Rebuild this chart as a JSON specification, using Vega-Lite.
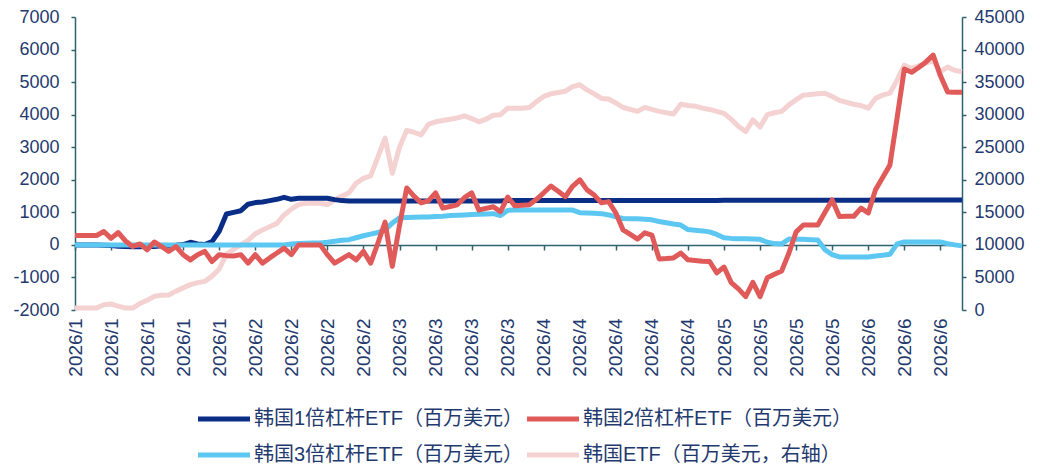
{
  "$schema": "https://vega.github.io/schema/vega-lite/v6.json",
  "width": 887,
  "height": 293,
  "autosize": {"type": "none"},
  "padding": {"left": 75, "top": 17, "right": 84, "bottom": 164},
  "background": "white",
  "config": {
    "view": {"stroke": null},
    "axis": {"grid": false, "labelFont": "Liberation Sans", "labelFontSize": 18, "labelColor": "#1F3A6E", "domainColor": "#2F6170", "tickColor": "#2F6170", "domainWidth": 1.5, "tickWidth": 1.5}
  },
  "data": {
    "values": [
      {"d": "2026-01-01", "b1": 0, "b2": 290, "b3": 0, "etf": 300},
      {"d": "2026-01-02", "b1": 0, "b2": 290, "b3": 0, "etf": 300},
      {"d": "2026-01-05", "b1": 0, "b2": 290, "b3": 0, "etf": 300},
      {"d": "2026-01-06", "b1": 0, "b2": 290, "b3": 0, "etf": 300},
      {"d": "2026-01-07", "b1": -10, "b2": 410, "b3": 0, "etf": 800},
      {"d": "2026-01-08", "b1": -20, "b2": 200, "b3": 0, "etf": 920},
      {"d": "2026-01-09", "b1": -40, "b2": 380, "b3": 0, "etf": 600},
      {"d": "2026-01-12", "b1": -50, "b2": 120, "b3": 0, "etf": 300},
      {"d": "2026-01-13", "b1": -60, "b2": -50, "b3": 0, "etf": 300},
      {"d": "2026-01-14", "b1": -60, "b2": 30, "b3": 0, "etf": 1000},
      {"d": "2026-01-15", "b1": -40, "b2": -150, "b3": 0, "etf": 1500},
      {"d": "2026-01-16", "b1": -50, "b2": 90, "b3": 0, "etf": 2100},
      {"d": "2026-01-19", "b1": -30, "b2": -50, "b3": 0, "etf": 2250},
      {"d": "2026-01-20", "b1": -20, "b2": -200, "b3": 0, "etf": 2300},
      {"d": "2026-01-21", "b1": -10, "b2": -50, "b3": 0, "etf": 2900},
      {"d": "2026-01-22", "b1": 10, "b2": -300, "b3": 0, "etf": 3400},
      {"d": "2026-01-23", "b1": 80, "b2": -460, "b3": 0, "etf": 3900},
      {"d": "2026-01-26", "b1": 30, "b2": -300, "b3": 0, "etf": 4200},
      {"d": "2026-01-27", "b1": 10, "b2": -200, "b3": 0, "etf": 4400},
      {"d": "2026-01-28", "b1": 100, "b2": -510, "b3": 0, "etf": 5200},
      {"d": "2026-01-29", "b1": 420, "b2": -300, "b3": 0, "etf": 6300},
      {"d": "2026-01-30", "b1": 950, "b2": -330, "b3": 0, "etf": 8600},
      {"d": "2026-02-02", "b1": 1000, "b2": -340, "b3": 0, "etf": 9300},
      {"d": "2026-02-03", "b1": 1050, "b2": -300, "b3": 0, "etf": 10000},
      {"d": "2026-02-04", "b1": 1250, "b2": -560, "b3": 0, "etf": 10700},
      {"d": "2026-02-05", "b1": 1300, "b2": -300, "b3": 0, "etf": 11700},
      {"d": "2026-02-06", "b1": 1320, "b2": -560, "b3": 0, "etf": 12300},
      {"d": "2026-02-09", "b1": 1360, "b2": -400, "b3": 0, "etf": 12800},
      {"d": "2026-02-10", "b1": 1400, "b2": -250, "b3": 0, "etf": 13300},
      {"d": "2026-02-11", "b1": 1460, "b2": -100, "b3": 0, "etf": 14600},
      {"d": "2026-02-12", "b1": 1400, "b2": -300, "b3": 30, "etf": 15500},
      {"d": "2026-02-13", "b1": 1430, "b2": 0, "b3": 40, "etf": 16200},
      {"d": "2026-02-16", "b1": 1430, "b2": 0, "b3": 50, "etf": 16400},
      {"d": "2026-02-17", "b1": 1430, "b2": 0, "b3": 60, "etf": 16400},
      {"d": "2026-02-18", "b1": 1430, "b2": 0, "b3": 60, "etf": 16400},
      {"d": "2026-02-19", "b1": 1430, "b2": -300, "b3": 80, "etf": 16200},
      {"d": "2026-02-20", "b1": 1390, "b2": -560, "b3": 110, "etf": 16900},
      {"d": "2026-02-23", "b1": 1360, "b2": -430, "b3": 140, "etf": 17500},
      {"d": "2026-02-24", "b1": 1350, "b2": -300, "b3": 160, "etf": 18000},
      {"d": "2026-02-25", "b1": 1350, "b2": -460, "b3": 220, "etf": 19500},
      {"d": "2026-02-26", "b1": 1350, "b2": -200, "b3": 280, "etf": 20200},
      {"d": "2026-02-27", "b1": 1350, "b2": -560, "b3": 330, "etf": 20600},
      {"d": "2026-03-02", "b1": 1350, "b2": 50, "b3": 380, "etf": 23500},
      {"d": "2026-03-03", "b1": 1350, "b2": 700, "b3": 460, "etf": 26400},
      {"d": "2026-03-04", "b1": 1350, "b2": -660, "b3": 670, "etf": 21000},
      {"d": "2026-03-05", "b1": 1350, "b2": 600, "b3": 830, "etf": 25000},
      {"d": "2026-03-06", "b1": 1350, "b2": 1750, "b3": 840, "etf": 27600},
      {"d": "2026-03-09", "b1": 1350, "b2": 1500, "b3": 850, "etf": 27300},
      {"d": "2026-03-10", "b1": 1350, "b2": 1290, "b3": 860, "etf": 26900},
      {"d": "2026-03-11", "b1": 1350, "b2": 1350, "b3": 860, "etf": 28500},
      {"d": "2026-03-12", "b1": 1350, "b2": 1600, "b3": 870, "etf": 28900},
      {"d": "2026-03-13", "b1": 1350, "b2": 1130, "b3": 880, "etf": 29100},
      {"d": "2026-03-16", "b1": 1350, "b2": 1180, "b3": 900, "etf": 29300},
      {"d": "2026-03-17", "b1": 1350, "b2": 1230, "b3": 910, "etf": 29500},
      {"d": "2026-03-18", "b1": 1350, "b2": 1450, "b3": 920, "etf": 29800},
      {"d": "2026-03-19", "b1": 1350, "b2": 1600, "b3": 930, "etf": 29400},
      {"d": "2026-03-20", "b1": 1350, "b2": 1070, "b3": 940, "etf": 28900},
      {"d": "2026-03-23", "b1": 1350, "b2": 1120, "b3": 950, "etf": 29300},
      {"d": "2026-03-24", "b1": 1350, "b2": 1170, "b3": 960, "etf": 29900},
      {"d": "2026-03-25", "b1": 1350, "b2": 1020, "b3": 900, "etf": 30000},
      {"d": "2026-03-26", "b1": 1360, "b2": 1470, "b3": 1060, "etf": 31000},
      {"d": "2026-03-27", "b1": 1360, "b2": 1200, "b3": 1070, "etf": 31000},
      {"d": "2026-03-30", "b1": 1360, "b2": 1220, "b3": 1070, "etf": 31000},
      {"d": "2026-03-31", "b1": 1360, "b2": 1230, "b3": 1070, "etf": 31100},
      {"d": "2026-04-01", "b1": 1360, "b2": 1400, "b3": 1070, "etf": 32000},
      {"d": "2026-04-02", "b1": 1360, "b2": 1600, "b3": 1070, "etf": 32800},
      {"d": "2026-04-03", "b1": 1360, "b2": 1810, "b3": 1070, "etf": 33200},
      {"d": "2026-04-06", "b1": 1360, "b2": 1650, "b3": 1070, "etf": 33400},
      {"d": "2026-04-07", "b1": 1360, "b2": 1480, "b3": 1070, "etf": 33600},
      {"d": "2026-04-08", "b1": 1360, "b2": 1800, "b3": 1070, "etf": 34300},
      {"d": "2026-04-09", "b1": 1360, "b2": 2000, "b3": 990, "etf": 34600},
      {"d": "2026-04-10", "b1": 1360, "b2": 1690, "b3": 980, "etf": 33800},
      {"d": "2026-04-13", "b1": 1360, "b2": 1530, "b3": 970, "etf": 33200},
      {"d": "2026-04-14", "b1": 1360, "b2": 1290, "b3": 960, "etf": 32500},
      {"d": "2026-04-15", "b1": 1360, "b2": 1330, "b3": 920, "etf": 32400},
      {"d": "2026-04-16", "b1": 1360, "b2": 980, "b3": 860, "etf": 31800},
      {"d": "2026-04-17", "b1": 1360, "b2": 460, "b3": 810, "etf": 31100},
      {"d": "2026-04-20", "b1": 1360, "b2": 320, "b3": 800, "etf": 30800},
      {"d": "2026-04-21", "b1": 1360, "b2": 180, "b3": 800, "etf": 30500},
      {"d": "2026-04-22", "b1": 1360, "b2": 370, "b3": 790, "etf": 31100},
      {"d": "2026-04-23", "b1": 1360, "b2": 300, "b3": 770, "etf": 30800},
      {"d": "2026-04-24", "b1": 1360, "b2": -430, "b3": 720, "etf": 30500},
      {"d": "2026-04-27", "b1": 1360, "b2": -420, "b3": 680, "etf": 30300},
      {"d": "2026-04-28", "b1": 1360, "b2": -400, "b3": 640, "etf": 30100},
      {"d": "2026-04-29", "b1": 1360, "b2": -250, "b3": 610, "etf": 31600},
      {"d": "2026-04-30", "b1": 1360, "b2": -460, "b3": 470, "etf": 31400},
      {"d": "2026-05-01", "b1": 1360, "b2": -480, "b3": 450, "etf": 31300},
      {"d": "2026-05-04", "b1": 1360, "b2": -500, "b3": 430, "etf": 31000},
      {"d": "2026-05-05", "b1": 1360, "b2": -510, "b3": 400, "etf": 30800},
      {"d": "2026-05-06", "b1": 1360, "b2": -860, "b3": 320, "etf": 30500},
      {"d": "2026-05-07", "b1": 1370, "b2": -680, "b3": 220, "etf": 30200},
      {"d": "2026-05-08", "b1": 1370, "b2": -1160, "b3": 200, "etf": 29300},
      {"d": "2026-05-11", "b1": 1370, "b2": -1350, "b3": 190, "etf": 28200},
      {"d": "2026-05-12", "b1": 1370, "b2": -1590, "b3": 190, "etf": 27400},
      {"d": "2026-05-13", "b1": 1370, "b2": -1150, "b3": 180, "etf": 29200},
      {"d": "2026-05-14", "b1": 1370, "b2": -1590, "b3": 170, "etf": 28100},
      {"d": "2026-05-15", "b1": 1370, "b2": -1010, "b3": 80, "etf": 30000},
      {"d": "2026-05-18", "b1": 1370, "b2": -900, "b3": 40, "etf": 30300},
      {"d": "2026-05-19", "b1": 1370, "b2": -800, "b3": 30, "etf": 30500},
      {"d": "2026-05-20", "b1": 1370, "b2": -250, "b3": 180, "etf": 31500},
      {"d": "2026-05-21", "b1": 1370, "b2": 400, "b3": 170, "etf": 32300},
      {"d": "2026-05-22", "b1": 1370, "b2": 610, "b3": 170, "etf": 33000},
      {"d": "2026-05-25", "b1": 1370, "b2": 610, "b3": 160, "etf": 33100},
      {"d": "2026-05-26", "b1": 1370, "b2": 610, "b3": 150, "etf": 33200},
      {"d": "2026-05-27", "b1": 1370, "b2": 1000, "b3": -150, "etf": 33300},
      {"d": "2026-05-28", "b1": 1370, "b2": 1380, "b3": -300, "etf": 32800},
      {"d": "2026-05-29", "b1": 1370, "b2": 870, "b3": -370, "etf": 32200},
      {"d": "2026-06-01", "b1": 1370, "b2": 880, "b3": -370, "etf": 31900},
      {"d": "2026-06-02", "b1": 1370, "b2": 880, "b3": -370, "etf": 31600},
      {"d": "2026-06-03", "b1": 1370, "b2": 1130, "b3": -370, "etf": 31400},
      {"d": "2026-06-04", "b1": 1370, "b2": 980, "b3": -370, "etf": 31000},
      {"d": "2026-06-05", "b1": 1380, "b2": 1690, "b3": -340, "etf": 32500},
      {"d": "2026-06-08", "b1": 1380, "b2": 2070, "b3": -320, "etf": 33000},
      {"d": "2026-06-09", "b1": 1380, "b2": 2450, "b3": -290, "etf": 33300},
      {"d": "2026-06-10", "b1": 1380, "b2": 3900, "b3": 30, "etf": 35300},
      {"d": "2026-06-11", "b1": 1380, "b2": 5400, "b3": 90, "etf": 37600},
      {"d": "2026-06-12", "b1": 1380, "b2": 5300, "b3": 90, "etf": 37100},
      {"d": "2026-06-15", "b1": 1380, "b2": 5450, "b3": 90, "etf": 37500},
      {"d": "2026-06-16", "b1": 1380, "b2": 5620, "b3": 90, "etf": 37900},
      {"d": "2026-06-17", "b1": 1380, "b2": 5830, "b3": 90, "etf": 38300},
      {"d": "2026-06-18", "b1": 1380, "b2": 5200, "b3": 90, "etf": 36600},
      {"d": "2026-06-19", "b1": 1380, "b2": 4700, "b3": 40, "etf": 37300},
      {"d": "2026-06-22", "b1": 1380, "b2": 4690, "b3": 0, "etf": 36800},
      {"d": "2026-06-23", "b1": 1380, "b2": 4690, "b3": -30, "etf": 36600}
    ]
  },
  "layer": [
    {
      "mark": {"type": "line", "strokeWidth": 5, "strokeJoin": "round"},
      "encoding": {
        "x": {
          "field": "d", "type": "ordinal",
          "scale": {"type": "point", "padding": 0},
          "axis": {
            "orient": "top", "offset": -228, "title": null, "labels": false,
            "domain": true, "ticks": true, "tickSize": -5,
            "values": ["2026-01-01", "2026-01-08", "2026-01-15", "2026-01-22", "2026-01-29", "2026-02-05", "2026-02-12", "2026-02-19", "2026-02-26", "2026-03-05", "2026-03-12", "2026-03-19", "2026-03-26", "2026-04-02", "2026-04-09", "2026-04-16", "2026-04-23", "2026-04-30", "2026-05-07", "2026-05-14", "2026-05-21", "2026-05-28", "2026-06-04", "2026-06-11", "2026-06-18"]
          }
        },
        "y": {
          "field": "etf", "type": "quantitative",
          "scale": {"domain": [0, 45000], "nice": false, "zero": false},
          "axis": {"orient": "right", "title": null, "tickSize": 4, "labelPadding": 8, "labelExpr": "'' + datum.value", "values": [0, 5000, 10000, 15000, 20000, 25000, 30000, 35000, 40000, 45000]}
        },
        "color": {
          "datum": "韩国ETF（百万美元，右轴）",
          "scale": {
            "domain": ["韩国1倍杠杆ETF（百万美元）", "韩国2倍杠杆ETF（百万美元）", "韩国3倍杠杆ETF（百万美元）", "韩国ETF（百万美元，右轴）"],
            "range": ["#0A2D86", "#E05A5A", "#5CC8F2", "#F5D2D2"]
          },
          "legend": {
            "title": null, "orient": "none", "legendX": 139, "legendY": 392, "direction": "horizontal", "columns": 2, "padding": 0,
            "symbolType": "M-4,0H4", "symbolSize": 169, "symbolStrokeWidth": 5,
            "labelFont": "Liberation Sans, Noto Sans CJK SC", "labelFontSize": 20, "labelColor": "#1F3A6E",
            "labelOffset": 20, "labelLimit": 400, "columnPadding": -6, "rowPadding": 16
          }
        }
      }
    },
    {
      "encoding": {
        "x": {
          "field": "d", "type": "ordinal",
          "scale": {"type": "point", "padding": 0},
          "axis": {
            "orient": "bottom", "title": null, "domain": false, "ticks": false,
            "labelAngle": -90, "labelFontSize": 19, "labelPadding": 8,
            "labelExpr": "'2026/' + toNumber(slice(datum.value, 5, 7))",
            "values": ["2026-01-01", "2026-01-08", "2026-01-15", "2026-01-22", "2026-01-29", "2026-02-05", "2026-02-12", "2026-02-19", "2026-02-26", "2026-03-05", "2026-03-12", "2026-03-19", "2026-03-26", "2026-04-02", "2026-04-09", "2026-04-16", "2026-04-23", "2026-04-30", "2026-05-07", "2026-05-14", "2026-05-21", "2026-05-28", "2026-06-04", "2026-06-11", "2026-06-18"]
          }
        }
      },
      "layer": [
        {
          "mark": {"type": "line", "strokeWidth": 5, "strokeJoin": "round"},
          "encoding": {
            "y": {"field": "b1", "type": "quantitative", "scale": {"domain": [-2000, 7000], "nice": false}, "axis": {"orient": "left", "title": null, "tickSize": 4, "labelPadding": 12, "labelExpr": "'' + datum.value", "values": [-2000, -1000, 0, 1000, 2000, 3000, 4000, 5000, 6000, 7000]}},
            "color": {"datum": "韩国1倍杠杆ETF（百万美元）"}
          }
        },
        {
          "mark": {"type": "line", "strokeWidth": 5, "strokeJoin": "round"},
          "encoding": {
            "y": {"field": "b3", "type": "quantitative", "scale": {"domain": [-2000, 7000], "nice": false}, "axis": {"orient": "left", "title": null, "tickSize": 4, "labelPadding": 12, "labelExpr": "'' + datum.value", "values": [-2000, -1000, 0, 1000, 2000, 3000, 4000, 5000, 6000, 7000]}},
            "color": {"datum": "韩国3倍杠杆ETF（百万美元）"}
          }
        },
        {
          "mark": {"type": "line", "strokeWidth": 5, "strokeJoin": "round"},
          "encoding": {
            "y": {"field": "b2", "type": "quantitative", "scale": {"domain": [-2000, 7000], "nice": false}, "axis": {"orient": "left", "title": null, "tickSize": 4, "labelPadding": 12, "labelExpr": "'' + datum.value", "values": [-2000, -1000, 0, 1000, 2000, 3000, 4000, 5000, 6000, 7000]}},
            "color": {"datum": "韩国2倍杠杆ETF（百万美元）"}
          }
        }
      ]
    }
  ],
  "resolve": {"scale": {"y": "independent"}, "axis": {"x": "independent"}}
}
